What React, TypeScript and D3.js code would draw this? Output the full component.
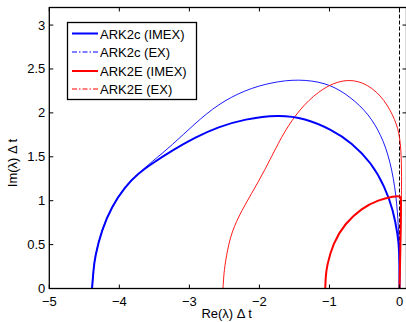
import { useEffect, useRef } from "react";
import * as d3 from "d3";

// boundary points, [Re(λ)Δt, Im(λ)Δt]
const ark2cImex: [number, number][] = [
    [-4.39, 0], [-4.37, 0.2], [-4.35, 0.36], [-4.25, 0.67], [-4.11, 0.93], [-3.92, 1.16],
    [-3.73, 1.31], [-3.54, 1.42], [-3.25, 1.57], [-2.92, 1.72], [-2.59, 1.84],
    [-2.21, 1.93], [-1.73, 1.98], [-1.35, 1.94], [-0.97, 1.81], [-0.68, 1.66],
    [-0.4, 1.43], [-0.21, 1.16], [-0.09, 0.895], [-0.02, 0.59], [-0.005, 0.44],
    [0, 0.22], [0, 0],
];
const ark2cEx: [number, number][] = [
    [-4.39, 0], [-4.37, 0.2], [-4.35, 0.36], [-4.25, 0.67], [-4.11, 0.93], [-3.92, 1.16],
    [-3.73, 1.31], [-3.54, 1.44], [-3.25, 1.63], [-2.92, 1.88], [-2.59, 2.1],
    [-2.21, 2.26], [-1.82, 2.35], [-1.44, 2.385], [-1.06, 2.345], [-0.78, 2.23],
    [-0.49, 2.035], [-0.3, 1.81], [-0.16, 1.54], [-0.06, 1.16], [-0.02, 0.78],
    [-0.005, 0.515], [0, 0.25], [0, 0],
];
const ark2eImex: [number, number][] = [
    [-1.06, 0], [-1.055, 0.12], [-1.04, 0.25], [-0.95, 0.515], [-0.78, 0.74], [-0.54, 0.915],
    [-0.3, 1.01], [-0.08, 1.05], [0.02, 1.058], [0.022, 1.0], [0.02, 0.78], [0.01, 0.35],
    [0, 0],
];
const ark2eEx: [number, number][] = [
    [-2.52, 0], [-2.51, 0.14], [-2.49, 0.29], [-2.42, 0.59], [-2.3, 0.82], [-2.11, 1.085],
    [-1.92, 1.35], [-1.73, 1.66], [-1.54, 1.92], [-1.3, 2.15], [-1.02, 2.32],
    [-0.73, 2.39], [-0.45, 2.33], [-0.21, 2.15], [-0.06, 1.92], [0.01, 1.73],
    [0.03, 1.43], [0.03, 1.12], [0.02, 0.78], [0.005, 0.21], [0, 0],
];

const xTicks = [-5, -4, -3, -2, -1, 0];
const yTicks = [0, 0.5, 1, 1.5, 2, 2.5, 3];

const series = [
    { name: "ARK2c (IMEX)", data: ark2cImex, color: "#0000ff", width: 2, dash: "" },
    { name: "ARK2c (EX)", data: ark2cEx, color: "#0000ff", width: 0.9, dash: "5,2,1.5,2" },
    { name: "ARK2E (IMEX)", data: ark2eImex, color: "#ff0000", width: 2, dash: "" },
    { name: "ARK2E (EX)", data: ark2eEx, color: "#ff0000", width: 0.9, dash: "5,2,1.5,2" },
];

export default function App() {
    const ref = useRef<SVGSVGElement>(null);

    useEffect(() => {
        const svg = d3.select(ref.current);
        svg.selectAll("*").remove();
        const font = "'Liberation Sans', Arial, sans-serif";

        const left = 49.3, right = 406.5, top = 7.5, bottom = 288.5;
        const x = d3.scaleLinear().domain([-5, 0.1]).range([left, right]);
        const y = d3.scaleLinear().domain([0, 3.2]).range([bottom, top]);

        svg.append("rect")
            .attr("width", 406).attr("height", 322).attr("fill", "white");

        // dashed imaginary axis
        svg.append("line")
            .attr("x1", x(0)).attr("x2", x(0))
            .attr("y1", y(0)).attr("y2", top)
            .attr("stroke", "black").attr("stroke-width", 1)
            .attr("stroke-dasharray", "4,2");

        const line = d3.line<[number, number]>()
            .x((d) => x(d[0]))
            .y((d) => y(d[1]))
            .curve(d3.curveBasis);

        [series[1], series[3], series[0], series[2]].forEach((s) => {
            svg.append("path")
                .attr("d", line(s.data))
                .attr("fill", "none")
                .attr("stroke", s.color)
                .attr("stroke-width", s.width);
        });

        // box + ticks
        const g = svg.append("g").attr("stroke", "black").attr("stroke-width", 1);
        g.append("rect")
            .attr("x", left).attr("y", top)
            .attr("width", right - left).attr("height", bottom - top)
            .attr("fill", "none").attr("stroke-width", 1.3);
        xTicks.forEach((t) => {
            g.append("line").attr("x1", x(t)).attr("x2", x(t)).attr("y1", bottom).attr("y2", bottom - 4);
            g.append("line").attr("x1", x(t)).attr("x2", x(t)).attr("y1", top).attr("y2", top + 4);
        });
        yTicks.forEach((t) => {
            g.append("line").attr("x1", left).attr("x2", left + 4).attr("y1", y(t)).attr("y2", y(t));
            g.append("line").attr("x1", right).attr("x2", right - 4).attr("y1", y(t)).attr("y2", y(t));
        });

        svg.selectAll(".xl")
            .data(xTicks)
            .enter()
            .append("text")
                .attr("x", (d) => x(d))
                .attr("y", bottom + 17)
                .attr("text-anchor", "middle")
                .attr("font-family", font)
                .attr("font-size", 13)
                .text((d) => (d < 0 ? "\u2212" + Math.abs(d) : String(d)));

        svg.selectAll(".yl")
            .data(yTicks)
            .enter()
            .append("text")
                .attr("x", left - 4)
                .attr("y", (d) => y(d) + 4.5)
                .attr("text-anchor", "end")
                .attr("font-family", font)
                .attr("font-size", 13)
                .text((d) => String(d));

        svg.append("text")
            .attr("x", 226.7).attr("y", 318)
            .attr("text-anchor", "middle")
            .attr("font-family", font).attr("font-size", 13)
            .text("Re(\u03bb) \u0394 t");

        svg.append("text")
            .attr("transform", "translate(17,163) rotate(-90)")
            .attr("text-anchor", "middle")
            .attr("font-family", font).attr("font-size", 13)
            .text("Im(\u03bb) \u0394 t");

        // legend
        const lg = svg.append("g");
        lg.append("rect")
            .attr("x", 67.5).attr("y", 22.5)
            .attr("width", 129).attr("height", 77)
            .attr("fill", "white").attr("stroke", "black").attr("stroke-width", 1.3);
        const rows = [33.5, 52, 71, 89];
        series.forEach((s, i) => {
            lg.append("line")
                .attr("x1", 72).attr("x2", 98)
                .attr("y1", rows[i]).attr("y2", rows[i])
                .style("stroke", s.color)
                .attr("stroke-width", s.width === 2 ? 2 : 1.1)
                .attr("stroke-dasharray", s.dash || null);
            lg.append("text")
                .attr("x", 100).attr("y", Math.round(rows[i]) + 4.5)
                .attr("font-family", font).attr("font-size", 13)
                .text(s.name);
        });
    }, []);

    return (
        <svg ref={ref} width={406} height={322}
            style={{ position: "absolute", left: 0, top: 0, display: "block" }} />
    );
}
